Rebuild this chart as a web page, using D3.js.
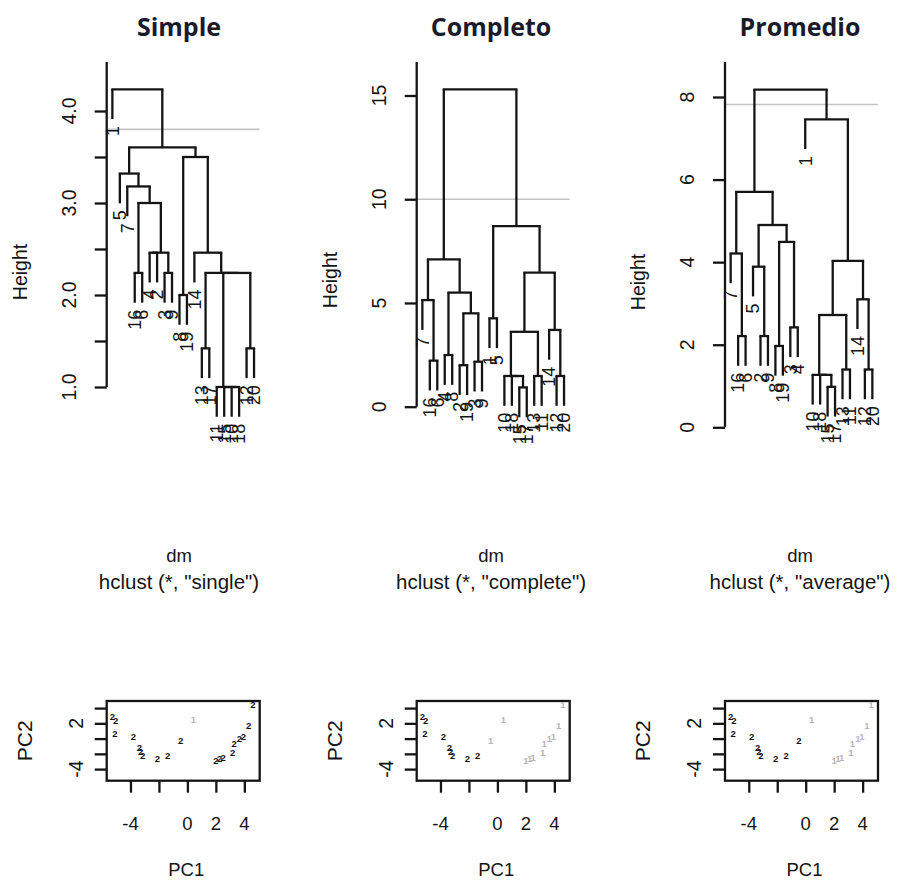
<!DOCTYPE html>
<html>
<head>
<meta charset="utf-8">
<script src="https://cdn.jsdelivr.net/npm/d3@7/dist/d3.min.js"></script>
<style>
  body { margin: 0; background: #fff; }
  text { font-family: "Liberation Sans", Arial, sans-serif; }
</style>
</head>
<body>
<div id="sandbox"></div>
<script>
// ---- data ----
const titles = ["Simple", "Completo", "Promedio"];
const methods = ["single", "complete", "average"];

// leaf labels in plotted order
const simpleLabels   = ["1","5","7","16","6","4","2","3","9","8","19","14","13","17","11","15","10","18","12","20"];
const completoLabels = ["7","16","6","4","8","2","19","3","9","1","5","10","18","15","17","13","11","14","12","20"];
const promedioLabels = ["7","16","6","5","2","9","8","19","3","4","1","10","18","15","17","13","11","14","12","20"];

// merges: [a, b, height]; negative = leaf position, positive = earlier merge (1-based)
const simpleMerge = [
  [-17, -18, 1.0], [-16, 1, 1.0], [-15, 2, 1.0], [-13, -14, 1.42], [-19, -20, 1.42],
  [-10, -11, 2.0], [3, 5, 2.24], [4, 7, 2.24], [-4, -5, 2.24], [-8, -9, 2.24],
  [-6, -7, 2.46], [11, 10, 2.46], [-12, 8, 2.46], [6, 13, 3.50], [9, 12, 3.00],
  [-3, 15, 3.18], [-2, 16, 3.32], [17, 14, 3.605], [-1, 18, 4.236]
];
const completoMerge = [
  [-14, -15, 0.93], [-13, 1, 1.48], [-12, 2, 1.48], [-16, -17, 1.48], [-19, -20, 1.48],
  [-6, -7, 2.0], [-8, -9, 2.17], [-2, -3, 2.22], [-4, -5, 2.49], [3, 4, 3.61],
  [-18, 5, 3.7], [-10, -11, 4.26], [6, 7, 4.5], [-1, 8, 5.14], [9, 13, 5.5],
  [10, 11, 6.46], [14, 15, 7.1], [12, 16, 8.7], [17, 18, 15.3]
];
const promedioMerge = [
  [-14, -15, 0.98], [-13, 1, 1.27], [-12, 2, 1.27], [-16, -17, 1.4], [-19, -20, 1.4],
  [-7, -8, 1.97], [-2, -3, 2.21], [-5, -6, 2.21], [-9, -10, 2.42], [3, 4, 2.72],
  [-18, 5, 3.1], [-4, 8, 3.89], [10, 11, 4.03], [-1, 7, 4.21], [6, 9, 4.49],
  [12, 15, 4.9], [14, 16, 5.7], [-11, 13, 7.46], [17, 18, 8.18]
];

// height axes
const simpleTicks = [1.0, 1.5, 2.0, 2.5, 3.0, 3.5, 4.0];
const simpleTickLabels = ["1.0", "", "2.0", "", "3.0", "", "4.0"];
const completoTicks = [0, 5, 10, 15];
const completoTickLabels = ["0", "5", "10", "15"];
const promedioTicks = [0, 2, 4, 6, 8];
const promedioTickLabels = ["0", "2", "4", "6", "8"];

// cut heights (grey lines)
const cutHeights = [3.80, 10.0, 7.82];

// PCA scores and cluster memberships
const pc1 = [0.42, -0.47, -5.27, -5.05, -5.09, -3.80, -3.38, -3.28, -3.14, -2.11, -1.38,
             2.00, 2.26, 2.52, 3.18, 3.28, 3.66, 3.94, 4.30, 4.60];
const pc2 = [2.53, -0.25, 2.85, 2.40, 0.60, 0.25, -1.14, -1.72, -2.24, -2.59, -2.28,
             -2.90, -2.59, -2.55, -1.87, -0.62, -0.02, 0.30, 1.65, 4.40];
const clSimple   = [1, 2, 2, 2, 2, 2, 2, 2, 2, 2, 2, 2, 2, 2, 2, 2, 2, 2, 2, 2];
const clCompleto = [1, 1, 2, 2, 2, 2, 2, 2, 2, 2, 2, 1, 1, 1, 1, 1, 1, 1, 1, 1];
const clPromedio = [1, 2, 2, 2, 2, 2, 2, 2, 2, 2, 2, 1, 1, 1, 1, 1, 1, 1, 1, 1];

const scatterTicks = [-4, -2, 0, 2, 4];
const scatterXLabels = ["-4", "", "0", "2", "4"];
const scatterYLabels = ["-4", "", "", "2", ""];
const xLim = [-5.67, 5.08];
const yLim = [-5.52, 4.93];

// ---- layout ----
const width = 899, height = 882;
const svg = d3.select("#sandbox").append("svg")
  .attr("width", width).attr("height", height);

const colLeft = [106.7, 416.7, 725.0];
const colW = 153;
const centers = [179, 491, 800];
const fs = 18.5;      // horizontal text
const fsV = 19.5;     // rotated text
const ink = "#141414";
const lw = 2.3;

const dendros = [
  { labels: simpleLabels, merge: simpleMerge, ticks: simpleTicks, tickLabels: simpleTickLabels,
    domain: [1, 4], range: [387, 111], heightY: 272 },
  { labels: completoLabels, merge: completoMerge, ticks: completoTicks, tickLabels: completoTickLabels,
    domain: [0, 15], range: [406.7, 95.5], heightY: 280 },
  { labels: promedioLabels, merge: promedioMerge, ticks: promedioTicks, tickLabels: promedioTickLabels,
    domain: [0, 8], range: [427.3, 97], heightY: 282 }
];
const clusters = [clSimple, clCompleto, clPromedio];

function rotText(g, x, y, txt, size) {
  g.append("text")
    .attr("x", x).attr("y", y)
    .attr("dy", "0.35em")
    .attr("transform", `rotate(-90,${x},${y})`)
    .attr("text-anchor", "middle")
    .attr("font-size", size)
    .attr("fill", ink)
    .text(txt);
}

dendros.forEach((d, k) => {
  const g = svg.append("g");
  const left = colLeft[k];
  const n = d.labels.length;
  const pad = 0.04 * (n - 1);
  const x = d3.scaleLinear().domain([1 - pad, n + pad]).range([left, left + colW]);
  const y = d3.scaleLinear().domain(d.domain).range(d.range);
  const hs = d.merge.map(m => m[2]);
  const hang = 0.1 * (d3.max(hs) - d3.min(hs));

  // title
  g.append("text").attr("x", centers[k]).attr("y", 36)
    .attr("text-anchor", "middle")
    .style("font-family", "'Open Sans', sans-serif")
    .attr("font-weight", 700).attr("font-size", 25).attr("fill", "#1a1a2a")
    .text(titles[k]);

  // cut line
  g.append("line")
    .attr("x1", left).attr("x2", left + colW)
    .attr("y1", y(cutHeights[k])).attr("y2", y(cutHeights[k]))
    .attr("stroke", "#c4c4c4").attr("stroke-width", 1.6);

  // axis
  const ay = d3.axisLeft(y).tickValues(d.ticks).tickFormat("").tickSize(12);
  const ax = g.append("g").attr("transform", `translate(${left},0)`).call(ay);
  ax.select(".domain").remove();
  ax.selectAll("line").attr("stroke", ink).attr("stroke-width", lw);
  g.append("line").attr("x1", left).attr("x2", left)
    .attr("y1", 62).attr("y2", y(d.ticks[0]))
    .attr("stroke", ink).attr("stroke-width", lw);
  d.ticks.forEach((t, i) => {
    if (d.tickLabels[i]) rotText(g, left - 38, y(t), d.tickLabels[i], fsV);
  });
  rotText(g, left - 87, d.heightY, "Height", fsV);

  // dendrogram
  const nodeX = [];
  const cx = c => c < 0 ? x(-c) : nodeX[c - 1];
  d.merge.forEach(([a, b, h], i) => {
    nodeX[i] = (cx(a) + cx(b)) / 2;
    g.append("line").attr("x1", cx(a)).attr("x2", cx(b))
      .attr("y1", y(h)).attr("y2", y(h))
      .attr("stroke", ink).attr("stroke-width", lw).attr("stroke-linecap", "square");
    [a, b].forEach(c => {
      const bottom = c < 0 ? h - hang : d.merge[c - 1][2];
      g.append("line").attr("x1", cx(c)).attr("x2", cx(c))
        .attr("y1", y(h)).attr("y2", y(bottom))
        .attr("stroke", ink).attr("stroke-width", lw);
      if (c < 0) {
        const lx = cx(c), ly = y(bottom) + 7;
        g.append("text").attr("x", lx).attr("y", ly)
          .attr("dy", "0.35em")
          .attr("transform", `rotate(-90,${lx},${ly})`)
          .attr("text-anchor", "end")
          .attr("font-size", 18).attr("fill", ink)
          .text(d.labels[-c - 1]);
      }
    });
  });

  // sub titles
  g.append("text").attr("x", centers[k]).attr("y", 562)
    .attr("text-anchor", "middle").attr("font-size", fs).attr("fill", ink).text("dm");
  g.append("text").attr("x", centers[k]).attr("y", 589)
    .attr("text-anchor", "middle").attr("font-size", 20.5).attr("fill", ink)
    .text(`hclust (*, "${methods[k]}")`);
});

// ---- scatter plots ----
const boxTop = 701, boxBottom = 780.7;
clusters.forEach((cl, k) => {
  const g = svg.append("g");
  const left = colLeft[k];
  const xs = d3.scaleLinear().domain(xLim).range([left, left + colW]);
  const ys = d3.scaleLinear().domain(yLim).range([boxBottom, boxTop]);

  g.append("rect").attr("x", left).attr("y", boxTop)
    .attr("width", colW).attr("height", boxBottom - boxTop)
    .attr("fill", "none").attr("stroke", ink).attr("stroke-width", lw);

  const axB = g.append("g").attr("transform", `translate(0,${boxBottom})`)
    .call(d3.axisBottom(xs).tickValues(scatterTicks).tickFormat("").tickSize(12));
  axB.select(".domain").remove();
  axB.selectAll("line").attr("stroke", ink).attr("stroke-width", lw);
  scatterTicks.forEach((t, i) => {
    if (scatterXLabels[i]) g.append("text").attr("x", xs(t)).attr("y", boxBottom + 49)
      .attr("text-anchor", "middle").attr("font-size", fs).attr("fill", ink).text(scatterXLabels[i]);
  });

  const axL = g.append("g").attr("transform", `translate(${left},0)`)
    .call(d3.axisLeft(ys).tickValues(scatterTicks).tickFormat("").tickSize(12));
  axL.select(".domain").remove();
  axL.selectAll("line").attr("stroke", ink).attr("stroke-width", lw);
  scatterTicks.forEach((t, i) => {
    if (scatterYLabels[i]) rotText(g, left - 31, ys(t), scatterYLabels[i], fsV);
  });

  g.append("text").attr("x", left + colW / 2 + 3).attr("y", boxBottom + 95)
    .attr("text-anchor", "middle").attr("font-size", fs).attr("fill", ink).text("PC1");
  rotText(g, left - 82, (boxTop + boxBottom) / 2, "PC2", 21);

  g.selectAll("text.pt").data(pc1).enter().append("text")
    .attr("class", "pt")
    .attr("x", (v) => xs(v))
    .attr("y", (v, i) => ys(pc2[i]))
    .attr("dy", "0.35em")
    .attr("text-anchor", "middle")
    .attr("font-size", 9.5).attr("font-weight", 700)
    .attr("fill", (v, i) => cl[i] === 1 ? "#bdb2b6" : "#111")
    .text((v, i) => cl[i]);
});
</script>
</body>
</html>
